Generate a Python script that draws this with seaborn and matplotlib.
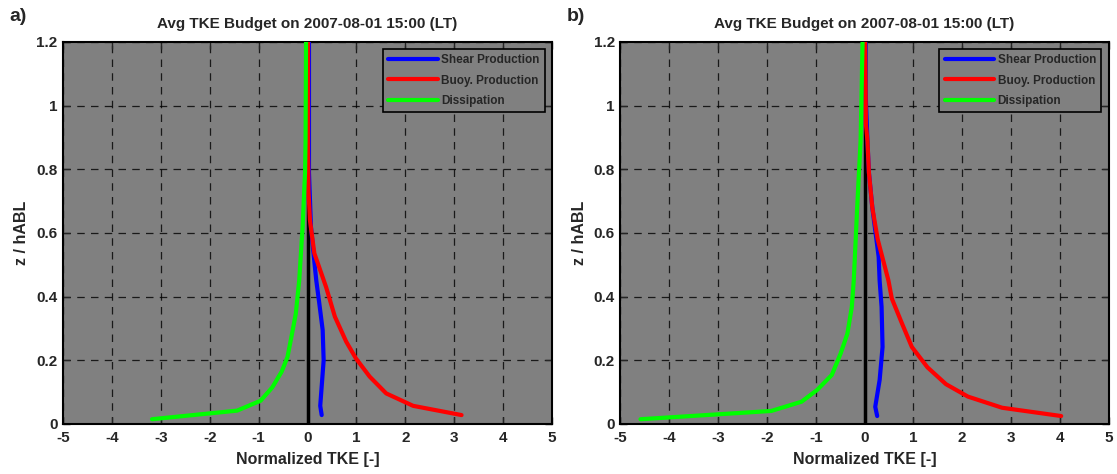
import numpy as np
import pandas as pd
import seaborn as sns
import matplotlib.pyplot as plt

# values
x_ticks = [-5, -4, -3, -2, -1, 0, 1, 2, 3, 4, 5]
y_ticks = [0, 0.2, 0.4, 0.6, 0.8, 1.0, 1.2]
y_ticklabels = ['0', '0.2', '0.4', '0.6', '0.8', '1', '1.2']
series_names = ['Shear Production', 'Buoy. Production', 'Dissipation']
series_colors = ['#0000ff', '#ff0000', '#00ff00']

# panel a)
z_a_shear = [0.028, 0.057, 0.2, 0.295, 0.38, 0.45, 0.494, 0.62, 0.79, 1.0, 1.2]
shear_a = [0.29, 0.26, 0.33, 0.31, 0.24, 0.18, 0.15, 0.07, 0.03, 0.03, 0.03]
z_a_buoy = [0.028, 0.057, 0.096, 0.149, 0.206, 0.259, 0.337, 0.43, 0.536, 0.64, 0.73, 0.85, 1.2]
buoy_a = [3.15, 2.16, 1.61, 1.27, 0.99, 0.79, 0.56, 0.38, 0.14, 0.05, 0.02, 0.01, 0.01]
z_a_diss = [0.015, 0.042, 0.073, 0.115, 0.164, 0.21, 0.273, 0.346, 0.45, 0.62, 0.79, 0.89, 1.2]
diss_a = [-3.18, -1.44, -0.96, -0.72, -0.53, -0.41, -0.33, -0.24, -0.17, -0.10, -0.05, -0.04, -0.03]

# panel b)
z_b_shear = [0.025, 0.054, 0.138, 0.242, 0.368, 0.45, 0.525, 0.68, 0.79, 0.89, 1.05, 1.2]
shear_b = [0.26, 0.22, 0.31, 0.37, 0.35, 0.31, 0.29, 0.16, 0.09, 0.06, 0.02, 0.02]
z_b_buoy = [0.025, 0.051, 0.086, 0.125, 0.178, 0.242, 0.315, 0.394, 0.451, 0.58, 0.68, 0.79, 0.89, 0.94, 1.2]
buoy_b = [4.03, 2.82, 2.12, 1.67, 1.29, 0.97, 0.77, 0.56, 0.49, 0.27, 0.16, 0.09, 0.06, 0.03, 0.01]
z_b_diss = [0.015, 0.041, 0.07, 0.107, 0.154, 0.221, 0.284, 0.368, 0.451, 0.68, 0.89, 1.2]
diss_b = [-4.59, -1.91, -1.29, -0.97, -0.67, -0.49, -0.35, -0.26, -0.22, -0.15, -0.08, -0.04]

title = 'Avg TKE Budget on 2007-08-01 15:00 (LT)'

sns.set_style('ticks')
plt.rcParams['font.family'] = ['Liberation Sans', 'DejaVu Sans']
plt.rcParams['font.weight'] = 'bold'

fig = plt.figure(figsize=(11.17, 4.74), dpi=100)
ax_a = fig.add_axes([0.0564, 0.1055, 0.4378, 0.806])
ax_b = fig.add_axes([0.5555, 0.1055, 0.4369, 0.806])

panels = [
    (ax_a, 'a)', [(z_a_shear, shear_a), (z_a_buoy, buoy_a), (z_a_diss, diss_a)]),
    (ax_b, 'b)', [(z_b_shear, shear_b), (z_b_buoy, buoy_b), (z_b_diss, diss_b)]),
]

for ax, tag, series in panels:
    ax.set_facecolor('#808080')
    ax.axvline(0, color='black', lw=2.5, zorder=2)
    for (z, v), name, col in zip(series, series_names, series_colors):
        df = pd.DataFrame({'tke': v, 'z': z})
        sns.lineplot(data=df, x='tke', y='z', sort=False, estimator=None,
                     color=col, lw=3, label=name, ax=ax, zorder=3)
    ax.set_xlim(-5, 5)
    ax.set_ylim(0, 1.2)
    ax.set_xticks(x_ticks)
    ax.set_xticklabels([str(t) for t in x_ticks])
    ax.set_yticks(y_ticks)
    ax.set_yticklabels(y_ticklabels)
    ax.grid(True, color='black', ls=(0, (6, 5)), lw=0.9, alpha=0.8)
    ax.tick_params(direction='in', top=True, right=True, length=5, width=1,
                   labelsize=11)
    ax.tick_params(axis='x', pad=5)
    ax.tick_params(axis='y', pad=4)
    for lab in ax.get_xticklabels() + ax.get_yticklabels():
        lab.set_fontweight('bold')
    for sp in ax.spines.values():
        sp.set_linewidth(1.5)
        sp.set_color('black')
    ax.set_xlabel('Normalized TKE [-]', fontsize=11.5, fontweight='bold', labelpad=5)
    ax.set_ylabel('z / hABL', fontsize=11.5, fontweight='bold', labelpad=5)
    ax.set_title(title, fontsize=11, fontweight='bold', pad=10)
    leg = ax.legend(loc='upper right', fontsize=8.5, frameon=True, fancybox=False,
                    handlelength=4.2, borderaxespad=0.6, labelspacing=0.7,
                    borderpad=0.45, handletextpad=0.3)
    leg.get_frame().set_facecolor('#808080')
    leg.get_frame().set_edgecolor('black')
    leg.get_frame().set_linewidth(1.2)
    leg.get_frame().set_alpha(1)
    for t in leg.get_texts():
        t.set_fontweight('bold')
    ax.text(-0.11, 1.045, tag, transform=ax.transAxes, fontsize=14,
            fontweight='bold', ha='left', va='bottom')

fig.savefig('out.png', dpi=100)
